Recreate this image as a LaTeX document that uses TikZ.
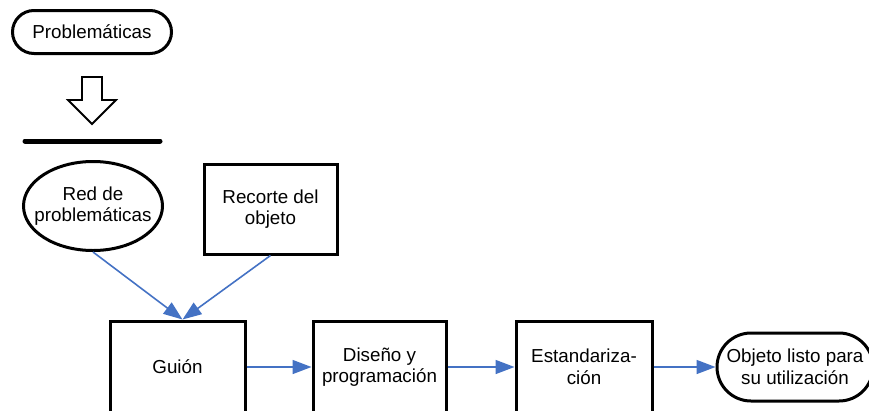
\documentclass[tikz,border=0pt]{standalone}
\usepackage{fontspec}
\setmainfont{Liberation Sans}
\usetikzlibrary{arrows.meta,shapes.geometric}
\definecolor{azulflecha}{HTML}{4472C4}

\begin{document}
\begin{tikzpicture}[x=1pt, y=-1pt,
		font=\fontsize{18.8}{21.6}\selectfont,
		caja/.style={draw, line width=3pt, align=center, inner sep=2pt},
		flujo/.style={draw=azulflecha, line width=1.6pt, -{Triangle[length=19pt, width=14pt]}}]
			%%%%% START %%%%%
			\useasboundingbox (0, 0) rectangle (869, 410);
			
			\node[caja, rounded corners=21.5pt, minimum width=159pt, minimum height=43pt] (problemas) at (92, 32) {Problemáticas};
			
			\draw[line width=1.8pt] (82, 77) -- (102, 77) -- (102, 100) -- (116, 100) -- (92, 124) -- (68, 100) -- (82, 100) -- cycle;
			\draw[line width=5pt, line cap=round] (25, 141) -- (160, 141);
			
			\node[caja, ellipse, inner sep=0pt, minimum width=139pt, minimum height=89pt,
				label={[align=center]center:Red de\\problemáticas}] (red) at (93, 206) {};
			\node[caja, minimum width=133pt, minimum height=90pt] (recorte) at (270.5, 209) {Recorte del\\objeto};
			
			\node[caja, minimum width=135pt, minimum height=92pt] (guion) at (177.5, 367) {Guión};
			\node[caja, minimum width=133pt, minimum height=92pt] (diseno) at (379.5, 367) {Diseño y\\programación};
			\node[caja, minimum width=136pt, minimum height=92pt] (estandar) at (584, 367) {Estandariza-\\ción};
			\node[caja, rounded corners=34pt, minimum width=156pt, minimum height=68pt] (objeto) at (795, 367) {Objeto listo para\\su utilización};
			
			\draw[flujo] (red.south) -- ([xshift=5pt]guion.north);
			\draw[flujo] (recorte.south) -- ([xshift=5pt]guion.north);
			\draw[flujo] (guion.east) -- (diseno.west);
			\draw[flujo] (diseno.east) -- (estandar.west);
			\draw[flujo] (estandar.east) -- (objeto.west);
			
			%%%%% END %%%%%
		\end{tikzpicture}
\end{document}
